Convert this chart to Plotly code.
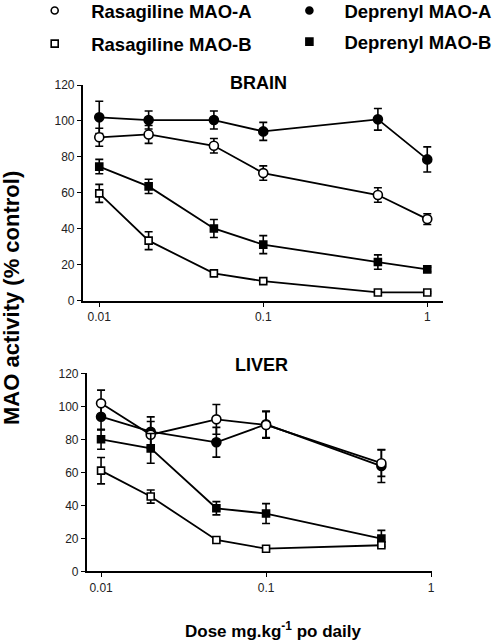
import plotly.graph_objects as go

# ---------------- data ----------------
doses_brain = [0.01, 0.02, 0.05, 0.1, 0.5, 1]
brain_dep_a = [102, 100.5, 100.5, 94.2, 100.9, 78.6]
brain_dep_a_err = [9, 5, 5, 5, 6, 7]
brain_ras_a = [90.9, 92.5, 86.2, 71.0, 58.8, 45.4]
brain_ras_a_err = [5, 5, 4, 4, 4, 3]
brain_dep_b = [74.6, 63.6, 40.2, 31.2, 21.5, 17.4]
brain_dep_b_err = [4, 4, 5, 5, 4, 1.2]
brain_ras_b = [59.7, 33.4, 15.2, 10.9, 4.6, 4.6]
brain_ras_b_err = [5, 5, 0.5, 0.5, 0.5, 0.5]

doses_liver = [0.01, 0.02, 0.05, 0.1, 0.5]
liver_ras_a = [101.8, 82.8, 92.1, 88.7, 65.5]
liver_ras_a_err = [8, 8, 9, 8, 8]
liver_dep_a = [93.7, 84.6, 78.2, 89.1, 63.8]
liver_dep_a_err = [8, 9, 9, 8, 10]
liver_dep_b = [80, 74.5, 38.2, 35, 19.8]
liver_dep_b_err = [6, 9, 4, 6, 5]
liver_ras_b = [61, 45.3, 19, 13.7, 15.8]
liver_ras_b_err = [8, 4, 0.5, 0.5, 0.5]

x_tickvals = [0.01, 0.1, 1]
x_ticktext = ["0.01", "0.1", "1"]
y_tickvals = [0, 20, 40, 60, 80, 100, 120]

series_names = ["Rasagiline MAO-A", "Rasagiline MAO-B", "Deprenyl MAO-A", "Deprenyl MAO-B"]

# ---------------- styles ----------------
FONT = "Liberation Sans, Arial, sans-serif"
W, H = 493, 640
styles = {
    "Rasagiline MAO-A": dict(symbol="circle", color="white", size=9),
    "Rasagiline MAO-B": dict(symbol="square", color="white", size=7),
    "Deprenyl MAO-A": dict(symbol="circle", color="black", size=9),
    "Deprenyl MAO-B": dict(symbol="square", color="black", size=7),
}

fig = go.Figure()


def add_series(x, y, err, name, xa, ya):
    st = styles[name]
    fig.add_trace(go.Scatter(
        x=x, y=y, mode="lines+markers", name=name, showlegend=False,
        xaxis=xa, yaxis=ya, cliponaxis=False,
        line=dict(color="black", width=1.8),
        marker=dict(symbol=st["symbol"], color=st["color"], size=st["size"],
                    line=dict(color="black", width=1.6)),
        error_y=dict(type="data", array=err, visible=True, color="black",
                     thickness=1.6, width=4),
    ))


add_series(doses_brain, brain_dep_a, brain_dep_a_err, "Deprenyl MAO-A", "x", "y")
add_series(doses_brain, brain_ras_a, brain_ras_a_err, "Rasagiline MAO-A", "x", "y")
add_series(doses_brain, brain_dep_b, brain_dep_b_err, "Deprenyl MAO-B", "x", "y")
add_series(doses_brain, brain_ras_b, brain_ras_b_err, "Rasagiline MAO-B", "x", "y")

add_series(doses_liver, liver_dep_a, liver_dep_a_err, "Deprenyl MAO-A", "x2", "y2")
add_series(doses_liver, liver_ras_a, liver_ras_a_err, "Rasagiline MAO-A", "x2", "y2")
add_series(doses_liver, liver_dep_b, liver_dep_b_err, "Deprenyl MAO-B", "x2", "y2")
add_series(doses_liver, liver_ras_b, liver_ras_b_err, "Rasagiline MAO-B", "x2", "y2")

# legend-only entries
for i, name in enumerate(series_names):
    st = styles[name]
    fig.add_trace(go.Scatter(
        x=[None], y=[None], mode="markers", name=name,
        legend="legend" if name.startswith("Ras") else "legend2",
        legendgroup=name,
        marker=dict(symbol=st["symbol"], color=st["color"], size=7,
                    line=dict(color="black", width=1.6)),
    ))

axis_common = dict(showgrid=False, zeroline=False, showline=True, linecolor="black",
                   linewidth=1.6, ticks="outside", ticklen=4, tickwidth=1,
                   tickcolor="black", tickfont=dict(family=FONT, size=12, color="#222"))

fig.update_layout(
    width=W, height=H, autosize=False,
    margin=dict(l=0, r=0, t=0, b=0, autoexpand=False),
    paper_bgcolor="white", plot_bgcolor="white",
    xaxis=dict(type="log", domain=[82.7 / W, 443 / W], range=[-2.101, 0.096],
               tickvals=x_tickvals, ticktext=x_ticktext, anchor="y", **axis_common),
    yaxis=dict(domain=[(H - 300.7) / H, (H - 85) / H], range=[0, 120],
               tickvals=y_tickvals, anchor="x", **axis_common),
    xaxis2=dict(type="log", domain=[86.7 / W, 431.7 / W], range=[-2.087, 0.004],
                tickvals=x_tickvals, ticktext=x_ticktext, anchor="y2", **axis_common),
    yaxis2=dict(domain=[(H - 571.3) / H, (H - 373.3) / H], range=[0, 120],
                tickvals=y_tickvals, anchor="x2", **axis_common),
    legend=dict(x=18.2 / W, y=1.0125, xanchor="left", yanchor="top",
                font=dict(family=FONT, size=18.5, color="black", weight="bold"),
                itemwidth=63, bgcolor="rgba(0,0,0,0)", tracegroupgap=6,
                traceorder="grouped"),
    legend2=dict(x=274.4 / W, y=1.0125, xanchor="left", yanchor="top",
                 font=dict(family=FONT, size=18.5, color="black", weight="bold"),
                 itemwidth=60, bgcolor="rgba(0,0,0,0)", tracegroupgap=4,
                 traceorder="grouped"),
    annotations=[
        dict(text="<b>BRAIN</b>", x=258 / W, y=(H - 83) / H, xref="paper", yref="paper",
             xanchor="center", yanchor="middle",
             showarrow=False, font=dict(family=FONT, size=18, color="black")),
        dict(text="<b>LIVER</b>", x=261.7 / W, y=(H - 365) / H, xref="paper", yref="paper",
             xanchor="center", yanchor="middle",
             showarrow=False, font=dict(family=FONT, size=18, color="black")),
        dict(text="<b>Dose mg.kg<sup>-1</sup> po daily</b>", x=273 / W, y=(H - 630) / H,
             xref="paper", yref="paper", showarrow=False, xanchor="center", yanchor="middle",
             font=dict(family=FONT, size=17, color="black")),
        dict(text="<b>MAO activity (% control)</b>", x=11 / W, y=(H - 298) / H,
             xref="paper", yref="paper", showarrow=False, textangle=-90,
             xanchor="center", yanchor="middle",
             font=dict(family=FONT, size=22, color="black")),
    ],
)

fig.write_html("out.html", post_script="document.body.style.margin='0';",
               config={"displayModeBar": False})
